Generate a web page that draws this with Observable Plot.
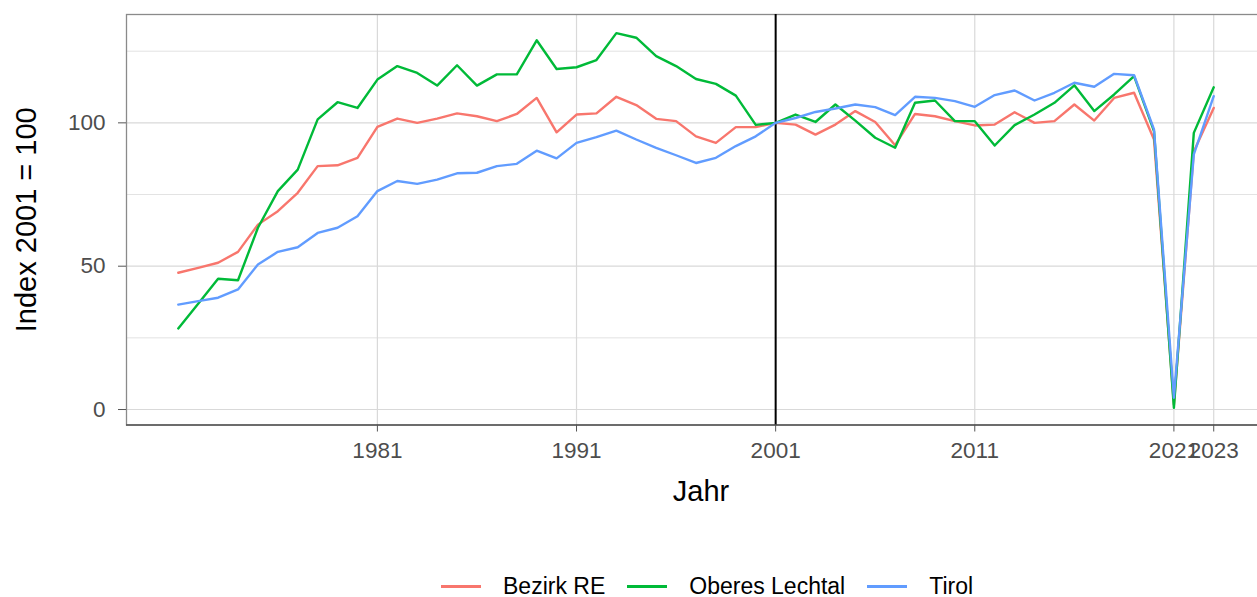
<!DOCTYPE html>
<html><head><meta charset="utf-8">
<script src="https://cdn.jsdelivr.net/npm/d3@7"></script>
<script src="https://cdn.jsdelivr.net/npm/@observablehq/plot@0.6"></script>
<style>
html,body{margin:0;padding:0;background:#fff;overflow:hidden;width:1257px;height:597px}
#chart{width:1265px;overflow:visible}
#chart svg{display:block;max-width:none !important;height:570px !important;width:1265px !important}
#legend{position:relative;margin-top:3px;height:27px;font-family:"Liberation Sans",Arial,sans-serif;font-size:23px;color:#000;display:flex;align-items:center;padding-left:441px}
.item{display:flex;align-items:center;height:27px;margin-right:22px;white-space:nowrap}
.sw{width:40px;height:2.6px;margin-right:22px}
</style></head><body>
<div id="chart"></div><div id="legend"></div>
<script>
const years = [1971,1972,1973,1974,1975,1976,1977,1978,1979,1980,
  1981,1982,1983,1984,1985,1986,1987,1988,1989,1990,
  1991,1992,1993,1994,1995,1996,1997,1998,1999,2000,
  2001,2002,2003,2004,2005,2006,2007,2008,2009,2010,
  2011,2012,2013,2014,2015,2016,2017,2018,2019,2020,
  2021,2022,2023];
const bezirkRE = [47.7,49.4,51.2,55.0,64.5,69.2,75.6,84.9,85.2,87.8,
  98.6,101.5,100.0,101.5,103.3,102.3,100.6,103.1,108.7,96.7,
  102.9,103.3,109.1,106.2,101.4,100.6,95.3,93.0,98.5,98.5,
  100.0,99.4,95.9,99.4,104.1,100.3,92.2,103.1,102.3,100.6,
  99.1,99.4,103.7,100.0,100.6,106.4,100.8,108.7,110.5,94.2,
  1.7,90.0,105.2];
const oberesLechtal = [28.3,36.9,45.6,45.1,63.4,76.2,83.7,101.2,107.2,105.2,
  115.1,119.8,117.4,113.0,120.1,113.0,116.9,116.9,128.8,118.8,
  119.4,121.9,131.3,129.7,123.3,119.8,115.3,113.6,109.5,99.3,
  100.0,102.9,100.3,106.4,100.8,94.8,91.3,107.0,107.8,100.6,
  100.6,92.1,99.2,102.9,107.0,113.1,104.1,109.9,116.3,97.1,
  0.6,96.5,112.4];
const tirol = [36.6,37.8,39.0,41.9,50.6,55.0,56.6,61.6,63.4,67.4,
  76.2,79.7,78.7,80.2,82.4,82.6,84.9,85.7,90.3,87.6,
  93.0,95.0,97.3,94.2,91.3,88.7,86.0,87.8,91.9,95.3,
  100.0,101.7,103.8,105.0,106.4,105.5,102.7,109.1,108.7,107.6,
  105.6,109.7,111.3,107.8,110.5,114.0,112.6,117.1,116.6,97.7,
  4.1,89.0,109.3];
const series = ["Bezirk RE","Oberes Lechtal","Tirol"];
const colors = ["#F8766D","#00BA38","#619CFF"];
const xTicks = [1981,1991,2001,2011,2021,2023];
const yTicks = [0,50,100];
const yMinor = [25,75,125];
const refYear = [2001];
const xTitle = "Jahr";
const yTitle = "Index 2001 = 100";

const seriesValues = [bezirkRE, oberesLechtal, tirol];
const rows = [];
series.forEach((s, i) => years.forEach((yr, j) => rows.push({Jahr: yr, Index: seriesValues[i][j], Region: s})));

const xDomain = [1968.4, 2025.6];
const yDomain = [-5.4, 137.8];
const H = 570;
const font = '"Liberation Sans", Arial, sans-serif';

const plot = Plot.plot({
  width: 1265, height: H,
  marginLeft: 126, marginRight: 0, marginTop: 14, marginBottom: H - 424.5,
  style: {fontFamily: font, fontSize: "22.5px", background: "#fff", overflow: "visible"},
  x: {domain: xDomain},
  y: {domain: yDomain},
  color: {domain: series, range: colors},
  marks: [
    Plot.ruleY(yMinor, {stroke: "#e3e3e3", strokeWidth: 1}),
    Plot.ruleY(yTicks, {stroke: "#d9d9d9", strokeWidth: 1.2}),
    Plot.ruleX(xTicks, {stroke: "#d9d9d9", strokeWidth: 1.2}),
    Plot.frame({stroke: "#8a8a8a", strokeWidth: 1.3}),
    Plot.ruleY([yDomain[0]], {stroke: "#555", strokeWidth: 1.6}),
    Plot.ruleX(refYear, {stroke: "#000", strokeWidth: 2}),
    Plot.line(rows, {x: "Jahr", y: "Index", stroke: "Region", z: "Region", strokeWidth: 2.4}),
    Plot.axisX(xTicks, {tickSize: 7, tickPadding: 10, tickFormat: d => String(d), stroke: "#555", fill: "#4d4d4d", label: null}),
    Plot.axisY(yTicks, {tickSize: 8, tickPadding: 13, tickFormat: d => String(d), stroke: "#555", fill: "#4d4d4d", label: null}),
    Plot.text([xTitle], {frameAnchor: "bottom", dx: 5, dy: 76, fontSize: 29, fill: "#000"}),
    Plot.text([yTitle], {frameAnchor: "left", textAnchor: "middle", dx: -100, rotate: -90, fontSize: 29, fill: "#000"})
  ]
});
document.getElementById("chart").appendChild(plot);

const legend = document.getElementById("legend");
series.forEach((s, i) => {
  const item = document.createElement("div");
  item.className = "item";
  const sw = document.createElement("span");
  sw.className = "sw";
  sw.style.background = colors[i];
  const t = document.createElement("span");
  t.textContent = s;
  item.appendChild(sw); item.appendChild(t);
  legend.appendChild(item);
});
</script>
</body></html>
